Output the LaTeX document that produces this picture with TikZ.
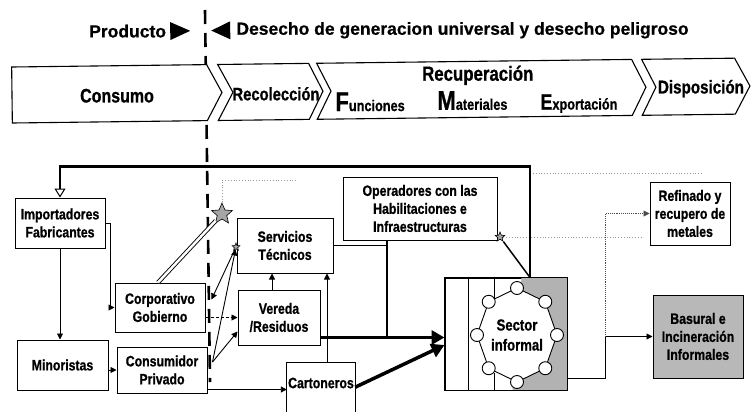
\documentclass[tikz,border=0pt]{standalone}
\usepackage{fontspec}
\setmainfont{Liberation Sans}[BoldFeatures={FakeBold=0.6}]
\newfontfamily\cond{Liberation Sans}[FakeStretch=0.82, BoldFeatures={FakeBold=0.8}]
\usetikzlibrary{arrows.meta,shapes.geometric}
\begin{document}
\begin{tikzpicture}[x=1pt,y=-1pt,
  box/.style={draw, line width=1pt, fill=white, inner sep=0pt, align=center, font=\cond\bfseries\fontsize{15}{18}\selectfont},
  txt/.style={inner sep=0pt, align=center, font=\cond\bfseries\fontsize{15}{18}\selectfont},
  chevtxt/.style={inner sep=0pt, font=\cond\bfseries\fontsize{19.5}{22}\selectfont},
  hdr/.style={inner sep=0pt, font=\bfseries\fontsize{17.5}{20}\selectfont},
  chev/.style={draw, line width=1.1pt, fill=white},
  arr/.style={line width=0.9pt, -{Triangle[length=6pt,width=6pt]}},
  thk/.style={line width=3.5pt, -{Triangle[length=13pt,width=14pt]}},
  lnk/.style={line width=1.6pt},
  faint/.style={black!40, dotted, line width=0.8pt},
  gstar/.style={star, star points=5, star point ratio=2.2, draw, line width=0.6pt, fill=black!35, inner sep=0pt},
]
\useasboundingbox (0,0) rectangle (755,413);

% dashed divider
\coordinate (dtop) at (205,10);
\coordinate (dbot) at (210,382);
\draw[line width=2.6pt, dash pattern=on 14pt off 9pt] (dtop) -- (dbot);

% header and chevron band (slightly rotated like the scan)
\begin{scope}[rotate around={0.7:(12,95)}]
  \node[hdr, anchor=east] (prod) at (167,33) {Producto};
  \fill (171,24) -- (191,33) -- (171,42) -- cycle;
  \fill (231,24) -- (212,33) -- (231,42) -- cycle;
  \node[hdr, anchor=west] (des) at (237,33) {Desecho de generacion universal y desecho peligroso};

  \draw[chev] (12,67) -- (207,67) -- (222,95) -- (207,123) -- (12,123) -- cycle;
  \draw[chev] (218,67) -- (309,67) -- (323,95) -- (309,123) -- (218,123) -- (233,95) -- cycle;
  \draw[chev] (317,67) -- (632,67) -- (646,95) -- (632,123) -- (317,123) -- (331,95) -- cycle;
  \draw[chev] (642,67) -- (735,67) -- (750,95) -- (735,123) -- (642,123) -- (656,95) -- cycle;

  \node[chevtxt] (consumo) at (117,97) {Consumo};
  \node[chevtxt, font=\cond\bfseries\fontsize{18}{20}\selectfont] (recol) at (276,97) {Recolección};
  \node[chevtxt, font=\cond\bfseries\fontsize{20.5}{22}\selectfont] (recu) at (478,81) {Recuperación};
  \node[anchor=base west, inner sep=0pt, font=\cond\bfseries] (fun) at (335,115)
     {{\fontsize{27}{27}\selectfont F}{\fontsize{15.5}{15.5}\selectfont unciones}};
  \node[anchor=base west, inner sep=0pt, font=\cond\bfseries] (mat) at (437,115)
     {{\fontsize{27}{27}\selectfont M}{\fontsize{15.5}{15.5}\selectfont ateriales}};
  \node[anchor=base west, inner sep=0pt, font=\cond\bfseries] (exp) at (540,116)
     {{\fontsize{22}{22}\selectfont E}{\fontsize{15.5}{15.5}\selectfont xportación}};
  \node[chevtxt, font=\cond\bfseries\fontsize{18.5}{20}\selectfont] (dispo) at (701,97) {Disposición};
\end{scope}

% boxes
\node[box, minimum width=90, minimum height=50] (imp) at (60,223) {Importadores\\Fabricantes};
\node[box, minimum width=90, minimum height=49] (corp) at (160,307.5) {Corporativo\\Gobierno};
\node[box, minimum width=91, minimum height=50] (mino) at (62.5,365) {Minoristas};
\node[box, minimum width=90, minimum height=46] (cons) at (162,370) {Consumidor\\Privado};
\node[box, minimum width=96, minimum height=55] (serv) at (285,245.5) {Servicios\\Técnicos};
\node[box, minimum width=82, minimum height=55] (vere) at (279,317.5) {Vereda\\/Residuos};
\node[box, minimum width=154, minimum height=63] (oper) at (420,208.5) {Operadores con las\\Habilitaciones e\\Infraestructuras};
\node[box, minimum width=80, minimum height=63] (refi) at (690,213.5) {Refinado y\\recupero de\\metales};
\node[box, fill=black!28, minimum width=90, minimum height=83] (basu) at (698,336.5) {Basural e\\Incineración\\Informales};

% Cartoneros (open at the bottom edge)
\node[inner sep=0pt, minimum width=68, minimum height=50, anchor=north] (cart) at (321,362) {};
\draw[line width=1pt] (cart.south west) |- (cart.north east) -- (cart.south east);
\node[txt] (cartt) at (321,383) {Cartoneros};

% Sector informal
\node[draw, line width=1pt, fill=white, minimum width=122, minimum height=112, inner sep=0pt] (si) at (506,334) {};
\fill[black!30] ([xshift=-46pt]si.north east) -- (si.north east) -- (si.south east) -- ([xshift=-55pt]si.south east) -- cycle;
\draw[line width=1pt] (si.north west) rectangle (si.south east);
\draw[line width=0.9pt] ([xshift=24pt]si.north west) -- ([xshift=24pt]si.south west);
\draw[line width=0.9pt] ([xshift=50pt]si.north west) -- ++(0,22);
\draw[line width=0.9pt] ([xshift=50pt]si.south west) -- ++(0,-18);
\foreach \a in {0,45,...,315} {
  \coordinate (p\a) at ({517+40*cos(\a)},{335-47*sin(\a)});
}
\draw[line width=0.9pt, fill=white] (p0) -- (p45) -- (p90) -- (p135) -- (p180) -- (p225) -- (p270) -- (p315) -- cycle;
\foreach \a in {0,45,...,315} {
  \node[circle, draw, line width=0.9pt, fill=white, minimum size=13pt, inner sep=0pt] (c\a) at (p\a) {};
}
\node[txt, font=\cond\bfseries\fontsize{16}{20}\selectfont] (sit) at (517,335) {Sector\\informal};

% stars
\node[gstar, minimum size=22pt] (sta) at (222,214) {};
\node[gstar, minimum size=10pt] (stb) at (500,237) {};
\node[gstar, minimum size=8pt] (stc) at (236,247) {};

% faint dotted traces
\draw[faint] (sta.north) -- ++(0,-22) -- ++(75,0);
\draw[faint] (stb.east) -- ++(140,0);
\coordinate (f1) at (533,173);
\coordinate (f2) at (703,173);
\draw[faint] (f1) -- (f2);

% main return line to Importadores
\draw[line width=2.2pt, -{Triangle[open, length=9pt, width=11pt, line width=1pt]}]
  ([xshift=24pt]si.north) -- ++(0,-111) -| (imp.north);

% connectors
\draw[arr] (imp.south) -- (imp.south |- mino.north);
\draw[arr] (imp.east) -- ++(5,0) |- (corp.west);
\draw[arr] (mino.east |- cons.west) -- (cons.west);
\draw[arr] ([yshift=4pt]cons.south east) -- ([yshift=4pt]cons.south east -| cart.west);
\draw[double=white, double distance=2.5pt, line width=0.9pt] ([xshift=-2pt]corp.north) -- (sta);
\draw[arr] (stc) -- ([xshift=6pt,yshift=8pt]corp.east);
\draw[arr] ([xshift=5pt,yshift=8pt]cons.east) -- (stc);
\draw[arr, densely dashed] (corp.east |- vere.west) -- (vere.west);
\draw[arr] ([xshift=5pt,yshift=8pt]cons.east) -- ([yshift=-14pt]vere.west);
\draw[arr] ([xshift=-7pt]vere.north) -- ([xshift=-7pt]vere.north |- serv.south);
\draw[arr] ([xshift=6pt]cart.north) -- ([xshift=6pt]cart.north |- serv.south);

\coordinate (opx) at ([xshift=-33pt]oper.south);
\coordinate (vr) at ([yshift=-20pt]vere.east);
\draw[lnk] (opx) -- (opx |- vr);
\draw[lnk] (serv.east) -- (serv.east -| opx);
\draw[thk] (vr) -- (vr -| si.west);
\draw[thk] (cart.east) -- ([yshift=-11pt]si.west);
\draw[line width=1.5pt] ([xshift=24pt]si.north) -- (stb);

\draw[arr] ([yshift=12pt]si.south east) -- ++(38,0) coordinate (jn) |- (basu.west);
\draw[arr, black!70, densely dotted] (jn |- basu.west) |- (refi.west);
\end{tikzpicture}
\end{document}
